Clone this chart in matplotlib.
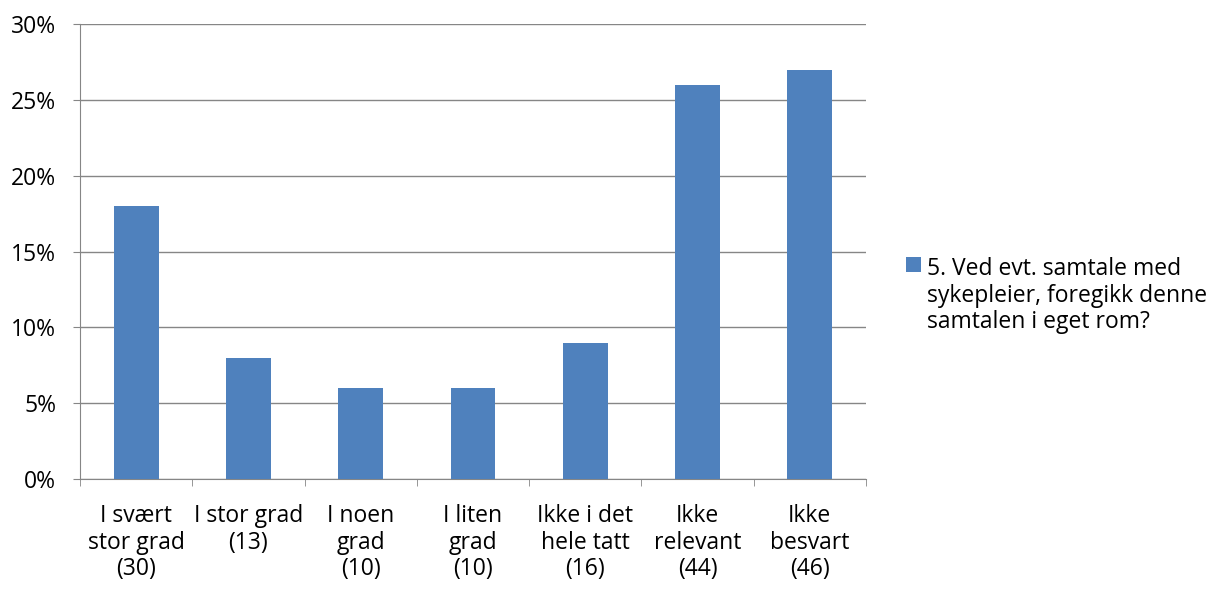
import numpy as np
import matplotlib.pyplot as plt
from matplotlib.ticker import FixedLocator, PercentFormatter

plt.rcParams["font.family"] = ["Open Sans", "DejaVu Sans"]

# data
categories = ["I svært\nstor grad\n(30)", "I stor grad\n(13)", "I noen\ngrad\n(10)",
              "I liten\ngrad\n(10)", "Ikke i det\nhele tatt\n(16)", "Ikke\nrelevant\n(44)",
              "Ikke\nbesvart\n(46)"]
values = [18, 8, 6, 6, 9, 26, 27]
series_name = "5. Ved evt. samtale med\nsykepleier, foregikk denne\nsamtalen i eget rom?"

fig = plt.figure(figsize=(12.19, 5.9), dpi=100)
ax = fig.add_axes([0.0656, 0.1881, 0.6448, 0.7712])

x = np.arange(len(categories))
bars = ax.bar(x, values, width=0.4, color="#4F81BD", zorder=3, label=series_name)

ax.set_xlim(-0.5, len(categories) - 0.5)
ax.set_ylim(0, 30)
ax.set_yticks(np.arange(0, 31, 5))
ax.yaxis.set_major_formatter(PercentFormatter(decimals=0))
ax.grid(axis="y", color="#868686", linewidth=1, zorder=0)

ax.set_xticks(x)
ax.set_xticklabels(categories, fontsize=16.5, linespacing=1.15)
ax.xaxis.set_minor_locator(FixedLocator(np.arange(-0.5, len(categories), 1)))
ax.tick_params(axis="x", which="major", length=0, pad=18)
ax.tick_params(axis="x", which="minor", length=5, color="#868686")
ax.tick_params(axis="y", length=5, color="#868686", labelsize=16.5, pad=12)

for side in ["top", "right"]:
    ax.spines[side].set_visible(False)
for side in ["left", "bottom"]:
    ax.spines[side].set_color("#868686")

leg = fig.legend(handles=[bars], labels=[series_name], loc="upper left",
                 bbox_to_anchor=(0.736, 0.580), frameon=False, fontsize=16.5,
                 handlelength=0.62, handleheight=0.62, handletextpad=0.3,
                 borderaxespad=0)
for text in leg.get_texts():
    text.set_linespacing(1.15)
# put the square next to the first line, not the middle of the block
for col in leg._legend_handle_box.get_children():
    for row in col.get_children():
        row.align = "top"

fig.savefig("out.png", dpi=100)
